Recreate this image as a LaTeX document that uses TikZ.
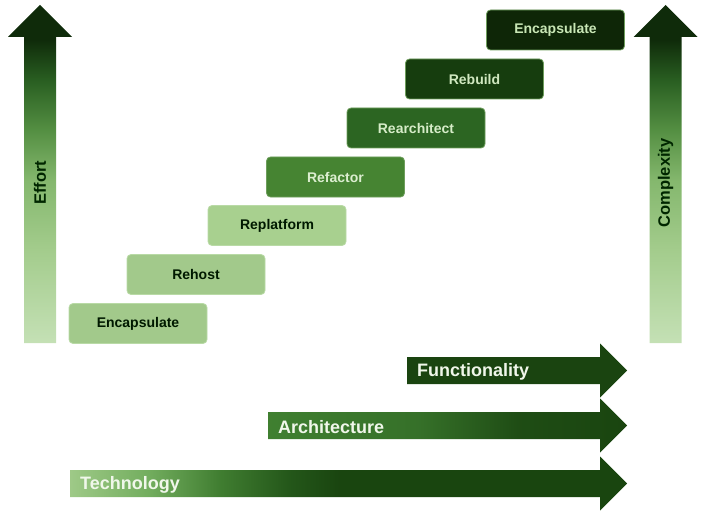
\documentclass[tikz,border=0pt]{standalone}
\usepackage{fontspec}
\setmainfont{Liberation Sans}
\usetikzlibrary{positioning}

\definecolor{lightstep}{HTML}{A2C98B}
\definecolor{brightstep}{HTML}{A8D08F}
\definecolor{paleedge}{HTML}{B9DAA6}
\definecolor{darkedge}{HTML}{6E9E5C}
\definecolor{deepgreen}{HTML}{1A4410}
\definecolor{labelwhite}{HTML}{F0F7EA}

% vertical arrows: dark at the top, pale at the foot
\pgfdeclareverticalshading{climbshade}{100bp}{
  rgb(0bp)=(0.77,0.88,0.71); rgb(25bp)=(0.77,0.88,0.71);
  rgb(38.8bp)=(0.64,0.80,0.55); rgb(49bp)=(0.52,0.72,0.43);
  rgb(56.5bp)=(0.33,0.56,0.26); rgb(63.9bp)=(0.16,0.37,0.13);
  rgb(69.8bp)=(0.06,0.17,0.04); rgb(75bp)=(0.06,0.17,0.04);
  rgb(100bp)=(0.06,0.17,0.04)}
% horizontal arrows: pale on the left, dark on the right
\pgfdeclarehorizontalshading{techshade}{100bp}{
  rgb(0bp)=(0.62,0.79,0.53); rgb(25bp)=(0.62,0.79,0.53);
  rgb(32bp)=(0.45,0.68,0.37); rgb(38.5bp)=(0.25,0.49,0.19);
  rgb(44.7bp)=(0.14,0.34,0.10); rgb(49.2bp)=(0.10,0.27,0.06);
  rgb(100bp)=(0.10,0.27,0.06)}
\pgfdeclarehorizontalshading{archshade}{100bp}{
  rgb(0bp)=(0.25,0.50,0.19); rgb(25bp)=(0.25,0.50,0.19);
  rgb(46bp)=(0.21,0.44,0.16); rgb(60bp)=(0.12,0.30,0.08);
  rgb(75bp)=(0.10,0.27,0.06); rgb(100bp)=(0.10,0.27,0.06)}

\newcommand{\uparrowpath}[1]{% centre x of the shaft
  (#1-16,343) -- (#1-16,37) -- (#1-32,37) -- (#1,5) -- (#1+32,37)
  -- (#1+16,37) -- (#1+16,343) -- cycle}
\newcommand{\rightarrowpath}[2]{% left end, centre y of the shaft
  (#1,#2-13.5) -- (600,#2-13.5) -- (600,#2-27) -- (627,#2)
  -- (600,#2+27) -- (600,#2+13.5) -- (#1,#2+13.5) -- cycle}

\begin{document}
\begin{tikzpicture}[x=1pt, y=-1pt,
    stepbox/.style={rectangle, rounded corners=4pt, line width=0.8pt,
      minimum width=138pt, minimum height=40pt, inner sep=0pt,
      font=\fontsize{14}{16}\selectfont\bfseries},
    lightbox/.style={stepbox, fill=lightstep, draw=paleedge, text=black!90!green},
    darkbox/.style={stepbox, draw=darkedge},
    axislabel/.style={font=\fontsize{16.5}{19}\selectfont\bfseries,
      text=black!85!green, rotate=90},
    barlabel/.style={anchor=west, inner sep=0pt,
      font=\fontsize{18}{21}\selectfont\bfseries, text=labelwhite}]

    \useasboundingbox (0,0) rectangle (707,516);

    % the two rising arrows
    \shade[shading=climbshade] \uparrowpath{40};
    \shade[shading=climbshade] \uparrowpath{665.5};
    \node[axislabel] (effort) at (40,183) {Effort};
    \node[axislabel] (complexity) at (665.5,183) {Complexity};

    % the steps
    \node[lightbox] (encap_low) at (138,323.5) {Encapsulate};
    \node[lightbox] (rehost) at (196,274.5) {Rehost};
    \node[lightbox, fill=brightstep] (replatform) at (277,225.5) {Replatform};
    \node[darkbox, fill={rgb,255:red,70;green,132;blue,50}, text={rgb,255:red,220;green,238;blue,208}]
        (refactor) at (335.5,177) {Refactor};
    \node[darkbox, fill={rgb,255:red,44;green,101;blue,34}, text={rgb,255:red,214;green,236;blue,200}]
        (rearchitect) at (416,128) {Rearchitect};
    \node[darkbox, fill={rgb,255:red,22;green,61;blue,14}, text={rgb,255:red,208;green,232;blue,192}]
        (rebuild) at (474.5,79) {Rebuild};
    \node[darkbox, fill={rgb,255:red,14;green,38;blue,7}, text={rgb,255:red,200;green,230;blue,181}]
        (encap_high) at (555.5,30) {Encapsulate};

    % the three bars
    \fill[deepgreen] \rightarrowpath{407}{370.5};
    \shade[shading=archshade] \rightarrowpath{268}{425.5};
    \shade[shading=techshade] \rightarrowpath{70}{483.5};
    \node[barlabel] (functionality) at (417,372) {Functionality};
    \node[barlabel] (architecture) at (278,427) {Architecture};
    \node[barlabel] (technology) at (80,485) {Technology};

\end{tikzpicture}
\end{document}
